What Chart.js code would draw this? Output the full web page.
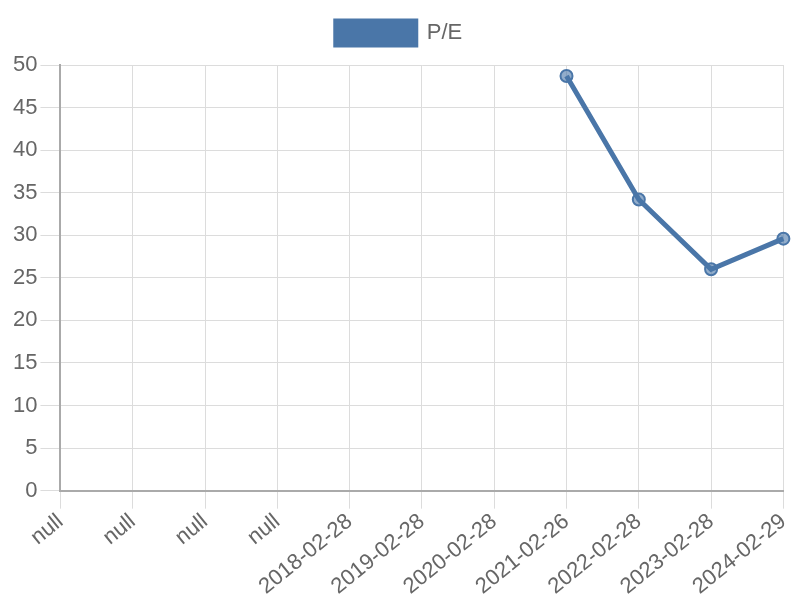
<!DOCTYPE html>
<html>
<head>
<meta charset="utf-8">
<script src="https://cdn.jsdelivr.net/npm/chart.js@4"></script>
<style>
  html, body { margin: 0; padding: 0; background: #fff; }
  #wrap { width: 800px; height: 600px; }
</style>
</head>
<body>
<div id="wrap"><canvas id="peChart"></canvas></div>
<script>
// data
const dates = ['null', 'null', 'null', 'null', '2018-02-28', '2019-02-28', '2020-02-28',
               '2021-02-26', '2022-02-28', '2023-02-28', '2024-02-29'];
const peValues = [null, null, null, null, null, null, null, 48.7, 34.2, 26.0, 29.6];
const yTicks = [0, 5, 10, 15, 20, 25, 30, 35, 40, 45, 50];

Chart.defaults.font.family = '"Liberation Sans", Arial, sans-serif';
Chart.defaults.color = '#666';

const ctx = document.getElementById('peChart').getContext('2d');
new Chart(ctx, {
    type: 'line',
    data: {
        labels: dates,
        datasets: [{
            label: 'P/E',
            data: peValues,
            borderColor: '#4a76a8',
            backgroundColor: '#4a76a8',
            borderWidth: 5,
            pointRadius: 6,
            pointBorderWidth: 2,
            pointBackgroundColor: 'rgba(74, 118, 168, 0.6)',
            pointBorderColor: '#4a76a8',
            tension: 0,
            fill: false
        }]
    },
    options: {
        responsive: true,
        maintainAspectRatio: false,
        animation: false,
        layout: {padding: {left: 10, right: 12, top: 5, bottom: 0}},
        plugins: {
            legend: {
                display: true,
                labels: {font: {size: 22}, boxWidth: 80, boxHeight: 24, padding: 16}
            },
            tooltip: {enabled: false}
        },
        scales: {
            x: {
                grid: {color: '#dcdcdc', tickLength: 18},
                border: {color: '#aaa', width: 2},
                ticks: {font: {size: 22}, maxRotation: 39, minRotation: 39, autoSkip: false, padding: 0}
            },
            y: {
                min: 0,
                max: 50,
                afterBuildTicks: axis => { axis.ticks = yTicks.map(v => ({value: v})); },
                grid: {color: '#dcdcdc', tickLength: 20},
                border: {color: '#aaa', width: 2},
                ticks: {font: {size: 22}, padding: 3}
            }
        }
    },
    plugins: [{
        // a little more room between the legend and the plot
        id: 'legendGap',
        beforeInit(chart) {
            const origFit = chart.legend.fit;
            chart.legend.fit = function() {
                origFit.call(this);
                this.height += 10;
            };
        }
    }]
});
</script>
</body>
</html>
